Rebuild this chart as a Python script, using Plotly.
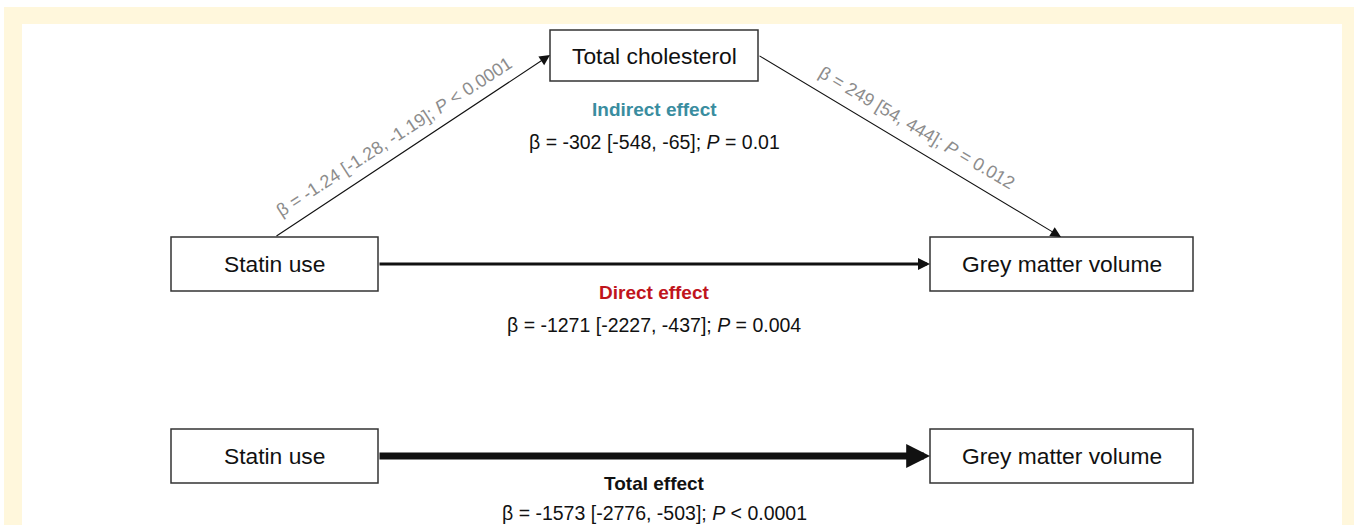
import plotly.graph_objects as go

# ---- data ----
node_labels = ["Total cholesterol", "Statin use", "Grey matter volume", "Statin use", "Grey matter volume"]
path_a_label = "β = -1.24 [-1.28, -1.19]; <i>P</i> < 0.0001"
path_b_label = "β = 249 [54, 444]; <i>P</i> = 0.012"
effect_titles = ["Indirect effect", "Direct effect", "Total effect"]
effect_values = [
    "β = -302 [-548, -65]; <i>P</i> = 0.01",
    "β = -1271 [-2227, -437]; <i>P</i> = 0.004",
    "β = -1573 [-2776, -503]; <i>P</i> < 0.0001",
]

# ---- layout geometry (pixels) ----
W, H = 1354, 525
boxes = [  # x0, y0, x1, y1
    (550, 30, 758, 81),
    (171, 237, 378, 291),
    (930, 237, 1193, 291),
    (171, 429, 378, 483),
    (930, 429, 1193, 483),
]
title_colors = ["#3a8d9f", "#c0141c", "#111111"]
title_pos = [(654, 109), (654, 292), (654, 483)]
value_pos = [(654, 142), (654, 325), (654, 513)]
FONT = "Liberation Sans, Arial, sans-serif"

fig = go.Figure()
fig.add_trace(go.Scatter(x=[0, W], y=[0, H], mode="markers", marker=dict(opacity=0), hoverinfo="skip", showlegend=False))

shapes = [
    dict(type="rect", x0=4, y0=7, x1=W + 5, y1=H + 5, fillcolor="#fff7dc", line=dict(width=0), layer="below"),
    dict(type="rect", x0=22, y0=24, x1=1342, y1=H + 5, fillcolor="white", line=dict(width=0), layer="below"),
]
annotations = []
for (x0, y0, x1, y1), lab in zip(boxes, node_labels):
    shapes.append(dict(type="rect", x0=x0, y0=y0, x1=x1, y1=y1, fillcolor="white",
                       line=dict(color="#333333", width=1.5), layer="above"))
    annotations.append(dict(x=(x0 + x1) / 2, y=(y0 + y1) / 2, text=lab, showarrow=False,
                            font=dict(family=FONT, size=22.8, color="#111111"), xanchor="center", yanchor="middle"))

def arrow(tail, tip, width, size):
    return dict(x=tip[0], y=tip[1], ax=tail[0], ay=tail[1], xref="x", yref="y", axref="x", ayref="y",
                text="", showarrow=True, arrowhead=2, arrowwidth=width, arrowsize=size,
                arrowcolor="#111111", standoff=0, startstandoff=0)

annotations.append(arrow((275, 237), (550, 55), 1.1, 1.9))
annotations.append(arrow((758, 55), (1061, 237), 1.1, 1.9))
annotations.append(arrow((378, 264), (930, 264), 3, 0.8))
annotations.append(arrow((378, 456), (930, 456), 7, 0.68))

annotations.append(dict(x=394, y=137, text=path_a_label, showarrow=False, textangle=-33,
                        font=dict(family=FONT, size=18, color="#8c8c8c")))
annotations.append(dict(x=917, y=128, text=path_b_label, showarrow=False, textangle=30.5,
                        font=dict(family=FONT, size=18, color="#8c8c8c")))

for t, c, (tx, ty), v, (vx, vy) in zip(effect_titles, title_colors, title_pos, effect_values, value_pos):
    annotations.append(dict(x=tx, y=ty, text="<b>" + t + "</b>", showarrow=False,
                            font=dict(family=FONT, size=19, color=c)))
    annotations.append(dict(x=vx, y=vy, text=v, showarrow=False,
                            font=dict(family=FONT, size=19.5, color="#111111")))

fig.update_layout(
    width=W, height=H, margin=dict(l=0, r=0, t=0, b=0),
    paper_bgcolor="white", plot_bgcolor="white",
    xaxis=dict(range=[0, W], visible=False, fixedrange=True),
    yaxis=dict(range=[H, 0], visible=False, fixedrange=True),
    shapes=shapes, annotations=annotations, showlegend=False,
)
fig.write_html("out.html", config={"displayModeBar": False})
